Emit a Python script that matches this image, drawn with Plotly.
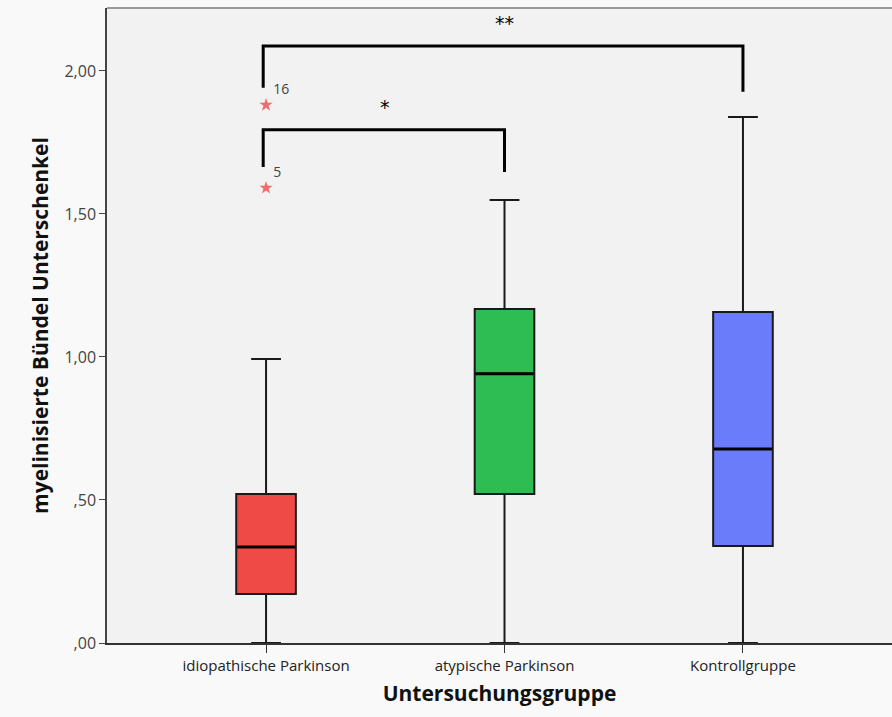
import plotly.graph_objects as go

categories = ["idiopathische Parkinson", "atypische Parkinson", "Kontrollgruppe"]
positions = [0, 1, 2]
q1 = [0.171, 0.521, 0.339]
median = [0.336, 0.941, 0.678]
q3 = [0.521, 1.168, 1.157]
lower_whisker = [0.0, 0.0, 0.0]
upper_whisker = [0.993, 1.549, 1.839]
box_colors = ["#f04a47", "#2ebd53", "#6b7cfb"]

outlier_x = [0, 0]
outlier_y = [1.881, 1.591]
outlier_labels = ["16", "5"]

# significance brackets: (left pos, right pos, bar height, left end, right end, label)
brackets = [
    (0, 2, 2.087, 1.941, 1.927, "**"),
    (0, 1, 1.794, 1.664, 1.647, "*"),
]

ytick_vals = [0.0, 0.5, 1.0, 1.5, 2.0]
ytick_text = [",00", ",50", "1,00", "1,50", "2,00"]

box_w = 0.25
fig = go.Figure()
for i, pos in enumerate(positions):
    fig.add_trace(go.Box(
        x=[pos], q1=[q1[i]], median=[median[i]], q3=[q3[i]],
        lowerfence=[lower_whisker[i]], upperfence=[upper_whisker[i]],
        width=box_w, whiskerwidth=0.5,
        fillcolor=box_colors[i], line=dict(color="#1a1a1a", width=2),
        boxpoints=False, showlegend=False, hoverinfo="skip",
    ))
    fig.add_trace(go.Scatter(
        x=[pos - box_w / 2 + 0.004, pos + box_w / 2 - 0.004], y=[median[i], median[i]],
        mode="lines", line=dict(color="black", width=3), showlegend=False, hoverinfo="skip",
    ))

fig.add_trace(go.Scatter(
    x=outlier_x, y=outlier_y, mode="markers+text",
    marker=dict(symbol="star", size=10, color="#f26a6a"),
    text=outlier_labels, textposition="top right",
    textfont=dict(family="Open Sans", size=14, color="#444444"),
    showlegend=False, hoverinfo="skip",
))

for (a, b, h, la, lb, lab) in brackets:
    fig.add_trace(go.Scatter(
        x=[a - 0.012, a - 0.012, b, b], y=[la, h, h, lb],
        mode="lines", line=dict(color="black", width=3), showlegend=False, hoverinfo="skip",
    ))
    fig.add_annotation(x=(a + b) / 2, y=h + 0.035, text=lab, showarrow=False,
                       yanchor="bottom", font=dict(family="DejaVu Sans", size=19, color="black"))

fig.update_layout(
    width=892, height=717,
    margin=dict(l=107, r=0, t=8, b=74),
    paper_bgcolor="#f9f9f9", plot_bgcolor="#f2f2f2",
    xaxis=dict(
        range=[-0.667, 2.625], tickvals=positions, ticktext=categories,
        showline=True, linecolor="#333333", linewidth=1.5,
        ticks="outside", ticklen=8, tickcolor="#333333",
        showgrid=False, zeroline=False,
        tickfont=dict(family="Open Sans", size=15, color="#222222"),
        title=dict(text="<b>Untersuchungsgruppe</b>", standoff=13,
                   font=dict(family="Open Sans", size=21, color="#111111")),
    ),
    yaxis=dict(
        range=[0, 2.22], tickvals=ytick_vals, ticktext=ytick_text,
        showline=True, linecolor="#444444", linewidth=1.5,
        ticks="outside", ticklen=6, tickcolor="#444444",
        showgrid=False, zeroline=False,
        tickfont=dict(family="Open Sans", size=16, color="#444444"),
        title=dict(text="<b>myelinisierte Bündel Unterschenkel</b>", standoff=10,
                   font=dict(family="Open Sans", size=21, color="#111111")),
    ),
    shapes=[dict(type="line", xref="paper", yref="paper", x0=0, x1=1, y0=1, y1=1,
                 line=dict(color="#999999", width=2))],
)

fig.write_html("out.html")
